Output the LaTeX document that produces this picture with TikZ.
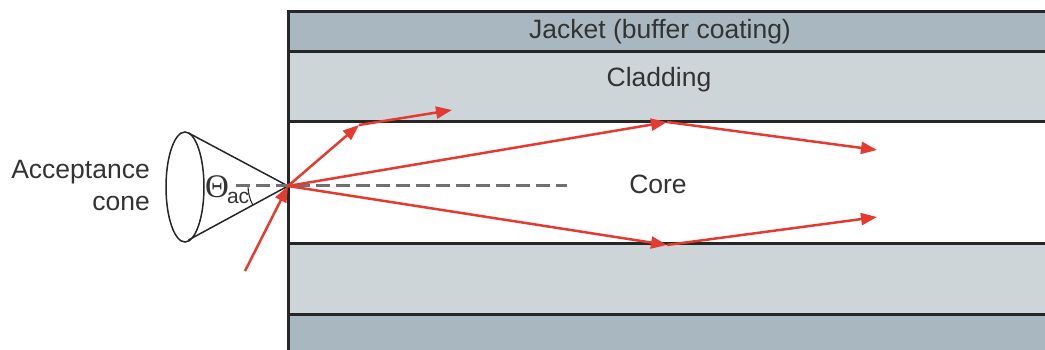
\documentclass[tikz,border=0pt]{standalone}
\usepackage{fontspec}
\setmainfont{Liberation Sans}
\newfontfamily\greekserif{Liberation Serif}
\usetikzlibrary{arrows.meta}
\definecolor{jacketfill}{HTML}{A9B8C0}
\definecolor{claddingfill}{HTML}{CDD5D9}
\definecolor{rayred}{HTML}{E53A30}
\definecolor{labelgray}{HTML}{333333}
\definecolor{axisgray}{HTML}{707070}
\begin{document}
\begin{tikzpicture}[x=1pt,y=-1pt,
  layerline/.style={line width=3pt, draw=black!85, line cap=rect},
  ray/.style={draw=rayred, line width=2.5pt},
  rayarrow/.style={ray, -{Triangle[length=16pt,width=12pt]}},
  lbl/.style={text=labelgray, font=\fontsize{26.5}{32}\selectfont, inner sep=0pt},
  conepen/.style={draw=black!85, line width=1.5pt},
]
\useasboundingbox (0,0) rectangle (1045,350);

% fibre layers
\fill[jacketfill]   (288,12)  rectangle (1045,52);
\fill[claddingfill] (288,52)  rectangle (1045,122);
\fill[white]        (288,122) rectangle (1045,243);
\fill[claddingfill] (288,243) rectangle (1045,314);
\fill[jacketfill]   (288,314) rectangle (1045,350);

\draw[layerline] (288,12) -- (1045,12);
\draw[layerline] (288,52) -- (1045,52);
\draw[layerline] (288,122) -- (1045,122);
\draw[layerline] (288,243) -- (1045,243);
\draw[layerline] (288,314) -- (1045,314);
\draw[layerline] (288,12) -- (288,350);

% labels
\node[lbl] (jacket) at (660,32) {Jacket (buffer coating)};
\node[lbl] (cladding) at (659,80) {Cladding};
\node[lbl] (core) at (658,184) {Core};
\node[lbl, align=right, anchor=east] (acc) at (150,186) {Acceptance\\cone};

% key points
\coordinate (E) at (288,186);
\coordinate (S) at (245,271);
\coordinate (B1) at (359,125);
\coordinate (R1) at (452,110);
\coordinate (B2) at (667,122);
\coordinate (R2) at (877,150);
\coordinate (B3) at (667,245);
\coordinate (R3) at (877,217);
\coordinate (AxisL) at (236,186);
\coordinate (AxisR) at (567,186);
\coordinate (ConeT) at (188.5,133);
\coordinate (ConeB) at (188.5,240);

% acceptance cone
\draw[conepen] (185,187) ellipse [x radius=19, y radius=55];
\draw[conepen] (ConeT) -- (E) -- (ConeB);
\draw[conepen, line width=1.1pt] (248,186) arc[start angle=180, end angle=151, radius=40];
\node[inner sep=0pt, anchor=west, text=labelgray] (theta) at (205,190)
  {{\greekserif\fontsize{33}{33}\selectfont \char"0398}\kern-2pt\raisebox{-6pt}{\fontsize{21}{21}\selectfont ac}};

% fibre axis
\draw[draw=axisgray, line width=3pt, dash pattern=on 14pt off 6pt] (AxisL) -- (AxisR);

% rays
\draw[rayarrow] (S) -- (E);
\draw[rayarrow] (E) -- (B1);
\draw[rayarrow] (B1) -- (R1);
\draw[rayarrow] (E) -- (B2);
\draw[rayarrow] (B2) -- (R2);
\draw[rayarrow] (E) -- (B3);
\draw[rayarrow] (B3) -- (R3);
\end{tikzpicture}
\end{document}
